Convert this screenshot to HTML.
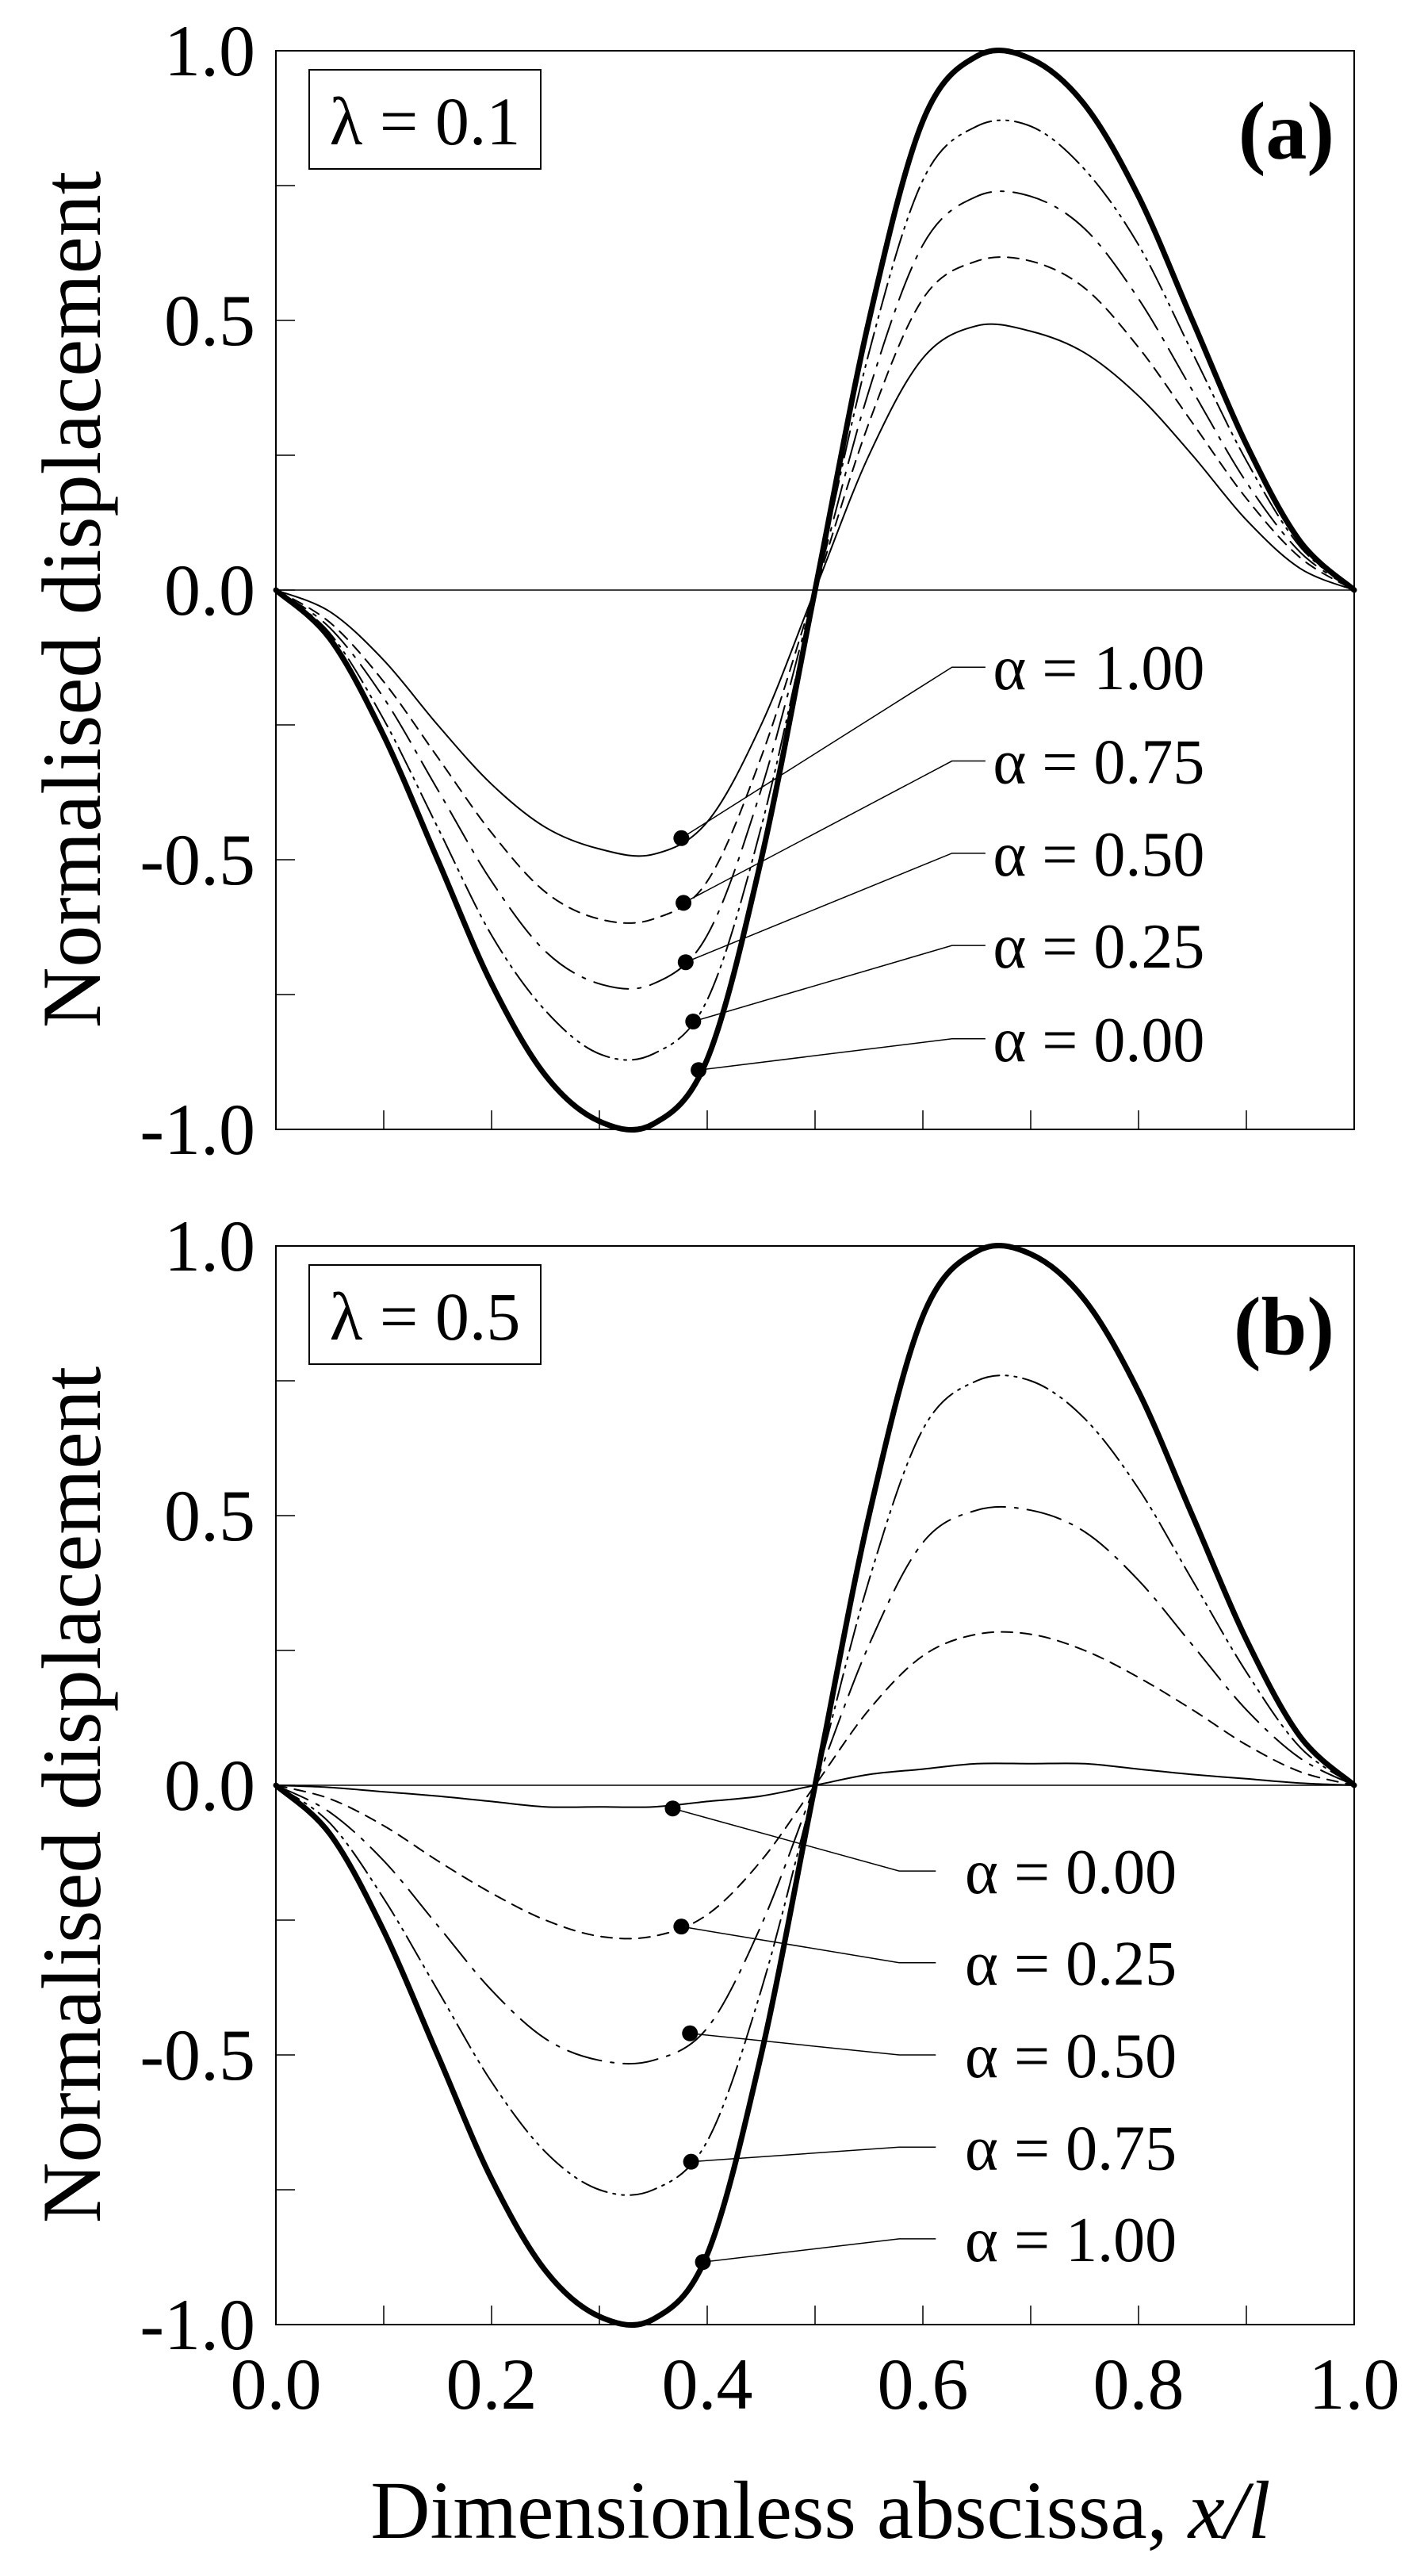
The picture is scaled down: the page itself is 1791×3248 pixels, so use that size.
<!DOCTYPE html>
<html><head><meta charset="utf-8"><style>
html,body{margin:0;padding:0;background:#fff}
svg{display:block}
text{font-family:"Liberation Serif","Times New Roman",serif;fill:#000}
</style></head><body>
<svg id="fig" width="1791" height="3248" viewBox="0 0 1791 3248" xmlns="http://www.w3.org/2000/svg" font-family="Liberation Serif, Times New Roman, serif"></svg>
<script>
const xs = [0,0.05,0.1,0.15,0.2,0.25,0.3,0.35,0.4,0.45,0.5,0.55,0.6,0.65,0.7,0.75,0.8,0.85,0.9,0.95,1];
// panel (a) lambda=0.1
const aAlpha0  = [0,-0.09,-0.27,-0.50,-0.73,-0.90,-0.985,-0.99,-0.87,-0.50,0,0.50,0.87,0.99,0.985,0.90,0.73,0.50,0.27,0.09,0];
const aAlpha25 = [0,-0.08,-0.24,-0.44,-0.64,-0.78,-0.86,-0.86,-0.76,-0.44,0,0.44,0.76,0.86,0.86,0.78,0.64,0.44,0.24,0.08,0];
const aAlpha50 = [0,-0.07,-0.20,-0.37,-0.54,-0.67,-0.73,-0.73,-0.64,-0.37,0,0.37,0.64,0.73,0.73,0.67,0.54,0.37,0.20,0.07,0];
const aAlpha75 = [0,-0.06,-0.17,-0.31,-0.45,-0.56,-0.61,-0.61,-0.54,-0.31,0,0.31,0.54,0.61,0.61,0.56,0.45,0.31,0.17,0.06,0];
const aAlpha100= [0,-0.04,-0.13,-0.25,-0.36,-0.44,-0.48,-0.49,-0.43,-0.25,0,0.25,0.43,0.49,0.48,0.44,0.36,0.25,0.13,0.04,0];
// panel (b) lambda=0.5
const bAlpha0  = [0,-0.004,-0.012,-0.02,-0.03,-0.04,-0.04,-0.04,-0.03,-0.02,0,0.02,0.03,0.04,0.04,0.04,0.03,0.02,0.012,0.004,0];
const bAlpha25 = [0,-0.025,-0.075,-0.14,-0.20,-0.25,-0.28,-0.28,-0.24,-0.14,0,0.14,0.24,0.28,0.28,0.25,0.20,0.14,0.075,0.025,0];
const bAlpha50 = [0,-0.05,-0.14,-0.26,-0.38,-0.47,-0.51,-0.51,-0.45,-0.26,0,0.26,0.45,0.51,0.51,0.47,0.38,0.26,0.14,0.05,0];
const bAlpha75 = [0,-0.07,-0.21,-0.38,-0.55,-0.68,-0.75,-0.75,-0.66,-0.38,0,0.38,0.66,0.75,0.75,0.68,0.55,0.38,0.21,0.07,0];
const bAlpha100= [0,-0.09,-0.27,-0.50,-0.73,-0.90,-0.985,-0.99,-0.87,-0.50,0,0.50,0.87,0.99,0.985,0.90,0.73,0.50,0.27,0.09,0];
// callouts
const aLabels = ["α = 1.00","α = 0.75","α = 0.50","α = 0.25","α = 0.00"];
const aDotX = [0.376,0.378,0.380,0.387,0.392];
const aDotY = [-0.46,-0.58,-0.69,-0.80,-0.89];
const aLabY = [-0.143,-0.317,-0.488,-0.659,-0.832];
const bLabels = ["α = 0.00","α = 0.25","α = 0.50","α = 0.75","α = 1.00"];
const bDotX = [0.368,0.376,0.384,0.385,0.396];
const bDotY = [-0.043,-0.262,-0.46,-0.698,-0.884];
const bLabY = [-0.159,-0.329,-0.5,-0.671,-0.841];
const yTicks = ["1.0","0.5","0.0","-0.5","-1.0"];
const yTickVals = [1,0.5,0,-0.5,-1];
const xTicks = ["0.0","0.2","0.4","0.6","0.8","1.0"];
const xTickVals = [0,0.2,0.4,0.6,0.8,1];

const NS="http://www.w3.org/2000/svg";
const svg=document.getElementById('fig');
const FF='"Liberation Serif","Times New Roman",serif';
function mk(tag,attrs,parent){const e=document.createElementNS(NS,tag);for(const k in attrs)e.setAttribute(k,attrs[k]);if(tag==='text'){e.setAttribute('font-family',FF);e.style.fontFamily=FF;}(parent||svg).appendChild(e);return e;}

const L=348,R=1708,W=R-L,H=1360;
function sx(v){return L+v*W;}

function catmull(pts){
  let d="M"+pts[0][0]+","+pts[0][1];
  for(let i=0;i<pts.length-1;i++){
    const p0=pts[Math.max(i-1,0)],p1=pts[i],p2=pts[i+1],p3=pts[Math.min(i+2,pts.length-1)];
    const c1=[p1[0]+(p2[0]-p0[0])/6,p1[1]+(p2[1]-p0[1])/6];
    const c2=[p2[0]-(p3[0]-p1[0])/6,p2[1]-(p3[1]-p1[1])/6];
    d+=" C"+c1[0].toFixed(1)+","+c1[1].toFixed(1)+" "+c2[0].toFixed(1)+","+c2[1].toFixed(1)+" "+p2[0].toFixed(1)+","+p2[1].toFixed(1);
  }
  return d;
}

function panel(top,tag,lam,series,styles,names,labels,dotX,dotY,labY,knee,lx,showX){
  const g=mk('g',{});
  
  
  const sy=v=>top+H/2-v*H/2;
  const frame=mk('rect',{x:L,y:top,width:W,height:H,fill:'none',stroke:'#000','stroke-width':2},g);
  
  
  const zl=mk('line',{x1:L,x2:R,y1:sy(0),y2:sy(0),stroke:'#000','stroke-width':1.5},g);
  
  
  for(let v=-0.75;v<1;v+=0.25){
    const t=mk('line',{x1:L,x2:L+24,y1:sy(v),y2:sy(v),stroke:'#000','stroke-width':1.5},g);
    
    
  }
  for(let i=1;i<10;i++){
    const t=mk('line',{x1:sx(i/10),x2:sx(i/10),y1:top+H,y2:top+H-24,stroke:'#000','stroke-width':1.5},g);
    
    
  }
  yTicks.forEach((s,i)=>{
    const t=mk('text',{x:322,y:sy(yTickVals[i])+31,'font-size':92,'text-anchor':'end'},g);
    t.textContent=s;
    
    
  });
  if(showX){
    xTicks.forEach((s,i)=>{
      const t=mk('text',{x:sx(xTickVals[i]),y:top+H+106,'font-size':92,'text-anchor':'middle'},g);
      t.textContent=s;
      
      
    });
  }
  series.forEach((ys,k)=>{
    const pts=xs.map((x,i)=>[sx(x),sy(ys[i])]);
    const p=mk('path',Object.assign({d:catmull(pts),fill:'none',stroke:'#000','stroke-linecap':'round'},styles[k]),g);
    
    
  });
  labels.forEach((s,i)=>{
    const ly=sy(labY[i]);
    const ln=mk('polyline',{points:sx(dotX[i])+","+sy(dotY[i])+" "+sx(knee[0])+","+ly+" "+sx(knee[1])+","+ly,fill:'none',stroke:'#000','stroke-width':1.5},g);
    
    
    const c=mk('circle',{cx:sx(dotX[i]),cy:sy(dotY[i]),r:10,fill:'#000'},g);
    
    
    const t=mk('text',{x:sx(lx),y:ly+28,'font-size':80},g);
    t.textContent=s;
    
    
  });
  const box=mk('rect',{x:390,y:top+24,width:292,height:125,fill:'#fff',stroke:'#000','stroke-width':2},g);
  
  
  const lt=mk('text',{x:536,y:top+118,'font-size':86,'text-anchor':'middle'},g);
  lt.textContent=lam;
  
  
  const pl=mk('text',{x:1683,y:top+136,'font-size':104,'font-weight':'bold','text-anchor':'end'},g);
  pl.textContent=tag;
  
  
  const yl=mk('text',{x:0,y:0,'font-size':106,'text-anchor':'middle',transform:'translate(126,'+(top+H/2+12)+') rotate(-90)'},g);
  yl.textContent='Normalised displacement';
  
  
}
const thick={'stroke-width':7},thin={'stroke-width':2};
const dd={'stroke-width':2,'stroke-dasharray':'34 8 3 8 3 8'};
const ld={'stroke-width':2,'stroke-dasharray':'44 12 4 12'};
const sd={'stroke-width':2,'stroke-dasharray':'14 10'};
panel(64,'(a)','λ = 0.1',[aAlpha0,aAlpha25,aAlpha50,aAlpha75,aAlpha100],[thick,dd,ld,sd,thin],
  ['series-alpha-0.00','series-alpha-0.25','series-alpha-0.50','series-alpha-0.75','series-alpha-1.00'],
  aLabels,aDotX,aDotY,aLabY,[0.627,0.658],0.665,false);
panel(1571,'(b)','λ = 0.5',[bAlpha100,bAlpha75,bAlpha50,bAlpha25,bAlpha0],[thick,dd,ld,sd,thin],
  ['series-alpha-1.00','series-alpha-0.75','series-alpha-0.50','series-alpha-0.25','series-alpha-0.00'],
  bLabels,bDotX,bDotY,bLabY,[0.578,0.612],0.639,true);
const xt=mk('text',{x:1035,y:3200,'font-size':104,'text-anchor':'middle'});
xt.innerHTML='Dimensionless abscissa, <tspan font-style="italic">x/l</tspan>';


</script>
</body></html>
